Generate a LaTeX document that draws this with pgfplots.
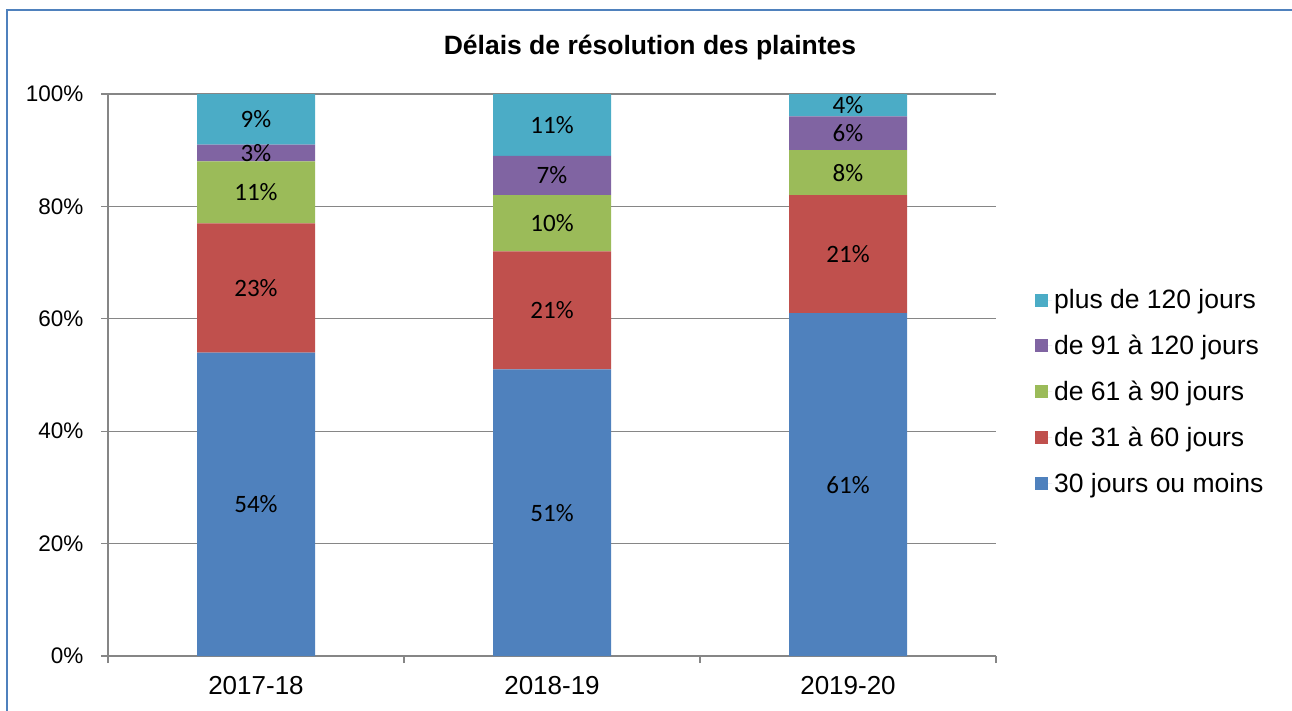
\documentclass[border=0pt]{standalone}
\usepackage{pgfplots}
\pgfplotsset{compat=1.18}
\usepackage{fontspec}
\setmainfont{Liberation Sans}
\newfontfamily\calibri{Carlito}
\definecolor{cblue}{HTML}{4F81BD}
\definecolor{cred}{HTML}{C0504D}
\definecolor{cgreen}{HTML}{9BBB59}
\definecolor{cpurple}{HTML}{8064A2}
\definecolor{ccyan}{HTML}{4BACC6}
\definecolor{gridgray}{HTML}{868686}
\begin{document}
\begin{tikzpicture}
\useasboundingbox (0,0) rectangle (1292bp,-711bp);
\draw[color=cblue, line width=2bp] (7bp,-712bp) -- (7bp,-10bp) -- (1293bp,-10bp);
\node[font=\fontsize{26.5bp}{30bp}\selectfont\bfseries] at (650bp,-48bp) {Délais de résolution des plaintes};
\begin{axis}[
  at={(108bp,-656bp)}, anchor=south west,
  scale only axis, width=888bp, height=562bp,
  ybar stacked, bar width=118bp,
  xmin=-0.5, xmax=2.5, ymin=0, ymax=100,
  xtick={0,1,2}, xticklabels={2017-18,2018-19,2019-20},
  xtick style={draw=none},
  extra x ticks={-0.5,0.5,1.5,2.5}, extra x tick labels={},
  extra x tick style={tick align=outside, major tick length=7bp, xtick style={draw=gridgray, line width=1.2bp}, grid=none},
  ytick={0,20,40,60,80,100},
  yticklabels={0\%,20\%,40\%,60\%,80\%,100\%},
  tick align=outside, major tick length=7bp,
  ytick style={draw=gridgray, line width=1.2bp},
  ymajorgrids, grid style={draw=gridgray, line width=1.2bp},
  axis x line*=bottom, axis y line*=left,
  axis line style={draw=gridgray, line width=1.2bp, -},
  xticklabel style={font=\fontsize{26bp}{30bp}\selectfont, yshift=-10bp},
  yticklabel style={font=\fontsize{22.5bp}{26bp}\selectfont, xshift=-14bp},
  legend style={at={(1.0405,0.47)}, anchor=west, draw=none, fill=none,
    font=\fontsize{26.5bp}{30bp}\selectfont, row sep=21bp},
  legend cell align=left,
  reverse legend,
  legend image code/.code={\fill[#1] (0bp,-6.5bp) rectangle (13bp,6.5bp); \path (0bp,0bp) -- (17bp,0bp);},
]
\addplot[fill=cblue, draw=none] coordinates {(0,54) (1,51) (2,61)};
\addplot[fill=cred, draw=none] coordinates {(0,23) (1,21) (2,21)};
\addplot[fill=cgreen, draw=none] coordinates {(0,11) (1,10) (2,8)};
\addplot[fill=cpurple, draw=none] coordinates {(0,3) (1,7) (2,6)};
\addplot[fill=ccyan, draw=none] coordinates {(0,9) (1,11) (2,4)};
\legend{30 jours ou moins, de 31 à 60 jours, de 61 à 90 jours, de 91 à 120 jours, plus de 120 jours}
\end{axis}
\begin{axis}[
  at={(108bp,-656bp)}, anchor=south west,
  scale only axis, width=888bp, height=562bp,
  xmin=-0.5, xmax=2.5, ymin=0, ymax=100,
  hide axis,
  nodes near coords, point meta=explicit symbolic,
  nodes near coords style={anchor=center, font=\calibri\fontsize{25bp}{29bp}\selectfont, text=black},
]
\addplot[draw=none, mark=none, only marks] table[meta=label] {
x y label
0 27 54\%
0 65.5 23\%
0 82.5 11\%
0 89.5 3\%
0 95.5 9\%
1 25.5 51\%
1 61.5 21\%
1 77 10\%
1 85.5 7\%
1 94.5 11\%
2 30.5 61\%
2 71.5 21\%
2 86 8\%
2 93 6\%
2 98 4\%
};
\end{axis}
\end{tikzpicture}
\end{document}
